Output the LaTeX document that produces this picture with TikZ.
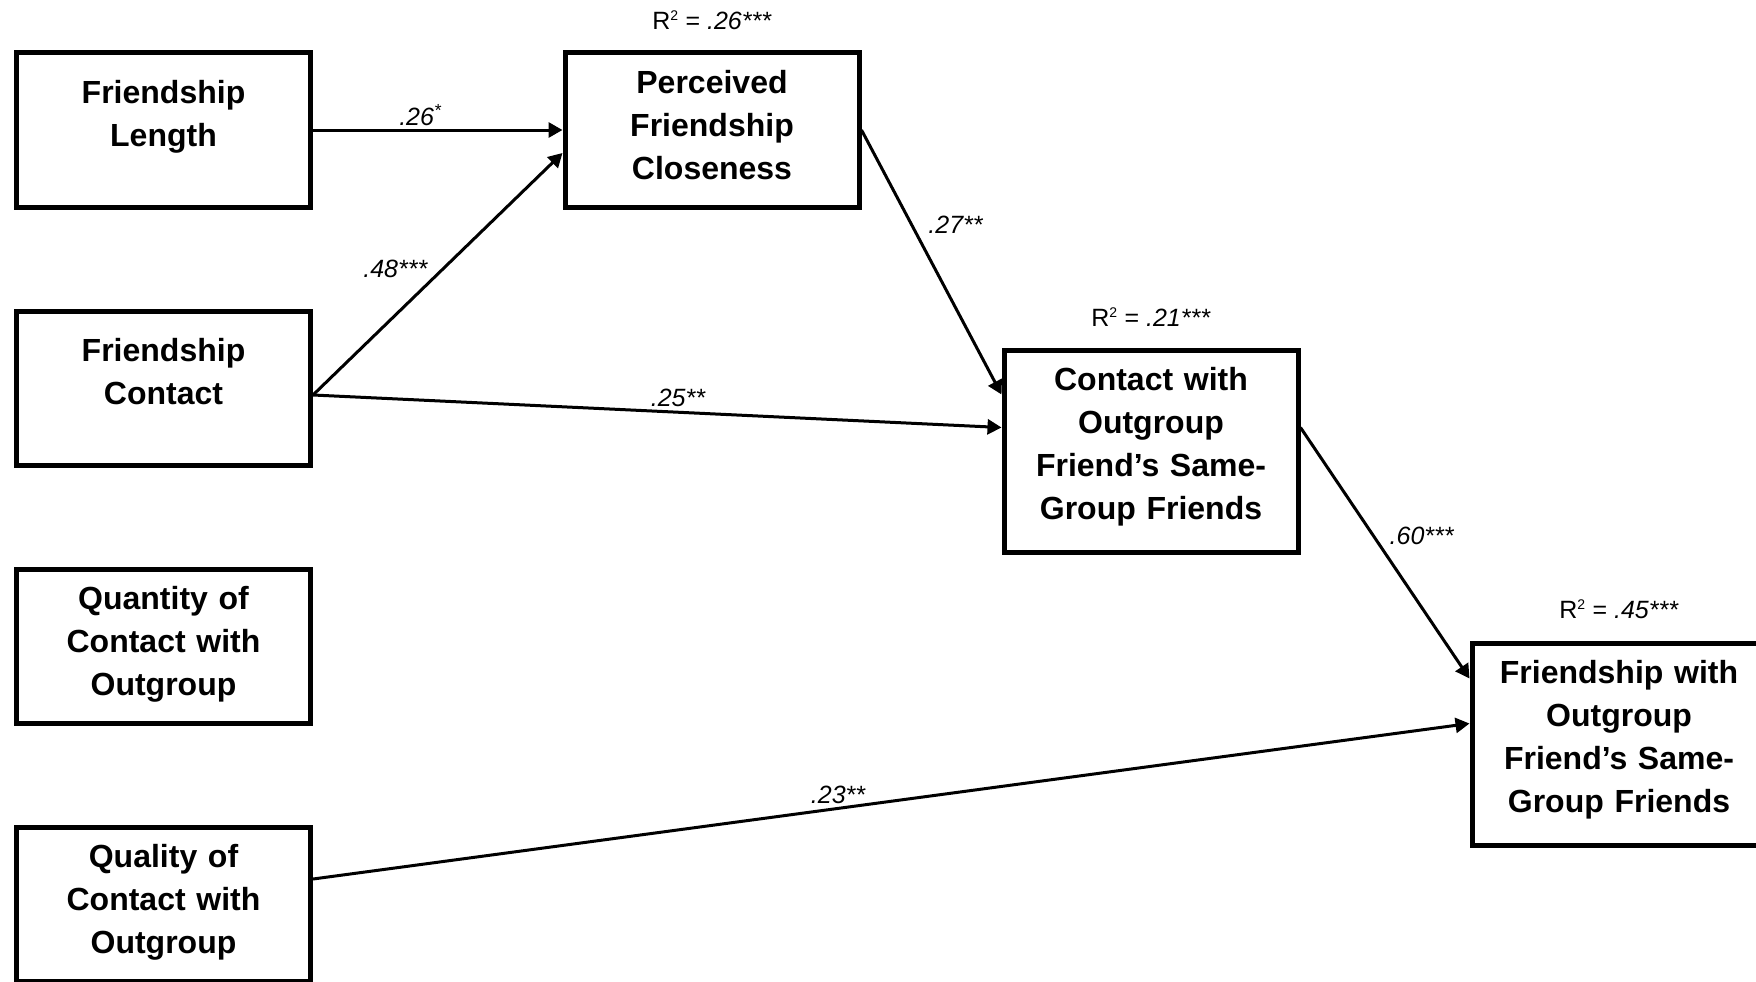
\documentclass[tikz,border=0pt]{standalone}
\usepackage{fontspec}
\setmainfont{Liberation Sans}
\usepackage{tikz}
\usetikzlibrary{arrows.meta,positioning}

\newcommand{\rsqlabel}[1]{R\textsuperscript{\fontsize{14}{14}\selectfont 2} = \textit{#1}}

\begin{document}
\begin{tikzpicture}[x=1pt,y=-1pt]
\tikzstyle{varbox}=[draw=black,line width=5pt,text width=294pt,align=center,inner sep=0pt,font=\bfseries\fontsize{32}{43}\selectfont,minimum height=154pt,text height=40pt,text depth=114pt]
\tikzstyle{twoline}=[text height=50pt,text depth=104pt]
\tikzstyle{bigbox}=[varbox,minimum height=202pt,text depth=162pt]
\tikzstyle{arrow}=[line width=3pt,-{Triangle[length=14pt,width=15pt]}]
\tikzstyle{coef}=[font=\itshape\fontsize{25}{30}\selectfont,inner sep=0pt]
\tikzstyle{rsq}=[font=\fontsize{25}{30}\selectfont,inner sep=0pt]
\useasboundingbox (0,0) rectangle (1756,982);
\node [varbox,twoline] at (163.5,130) (fl) {Friendship\\Length};
\node [varbox,twoline,below of=fl,node distance=258pt] (fc) {Friendship\\Contact};
\node [varbox,below of=fc,node distance=258pt] (fqn) {Quantity of\\Contact with\\Outgroup};
\node [varbox,below of=fqn,node distance=258pt] (fql) {Quality of\\Contact with\\Outgroup};
\node [varbox] at (712,130) (perc) {Perceived\\Friendship\\Closeness};
\node [bigbox] at (1151,451.5) (cwo) {Contact with\\Outgroup\\Friend’s Same-\\Group Friends};
\node [bigbox] at (1619,744.5) (fwo) {Friendship with\\Outgroup\\Friend’s Same-\\Group Friends};
\node [rsq,above=21pt of perc] (r1) {\rsqlabel{.26***}};
\node [rsq,above=21pt of cwo] (r2) {\rsqlabel{.21***}};
\node [rsq,above=22pt of fwo] (r3) {\rsqlabel{.45***}};
\draw [arrow] (fl) -- node[coef,above=3pt,pos=.43] {.26\textsuperscript{*}} (perc);
\draw [arrow] ([yshift=-7pt]fc.east) -- node[coef,left=14pt,pos=.52] {.48***} ([yshift=-23pt]perc.west);
\draw [arrow] ([yshift=-7pt]fc.east) -- node[coef,above=4pt,pos=.53] {.25**} ([yshift=24pt]cwo.west);
\draw [arrow] (perc.east) -- node[coef,right=15pt,pos=.36] {.27**} ([yshift=57pt]cwo.west);
\draw [arrow] ([yshift=24pt]cwo.east) -- node[coef,right=15pt,pos=.43] {.60***} ([yshift=66pt]fwo.west);
\draw [arrow] ([yshift=25pt]fql.east) -- node[coef,above=3pt,pos=.454] {.23**} ([yshift=21pt]fwo.west);
\end{tikzpicture}
\end{document}
